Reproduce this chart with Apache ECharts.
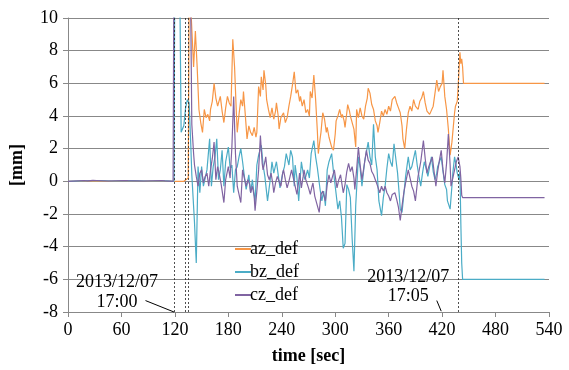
<!DOCTYPE html>
<html>
<head>
<meta charset="utf-8">
<script src="https://cdn.jsdelivr.net/npm/echarts@6/dist/echarts.min.js"></script>
<style>
  html, body { margin: 0; padding: 0; background: #fff; }
  #chart { width: 569px; height: 370px; }
</style>
</head>
<body>
<div id="chart"></div>
<script>
// time [sec] / deflection [mm] pairs
const azDef = [
  [0,0],[20,0.02],[40,0.01],[60,0.02],[80,0.01],[100,0.02],[118,0],[130,0],[135,0.2],[136,12],
  [138,10.5],[141,7.0],[143,9.2],[145,7.0],[147,4.4],[149,3.6],[151,3.0],[153,4.4],[155,3.9],[157,4.1],
  [159,3.7],[160,4.4],[162,4.9],[164,6.0],[166,5.1],[168,4.6],[170,5.0],[171,5.2],[173,4.3],[175,3.6],
  [177,4.5],[179,5.2],[181,4.8],[183,4.6],[185,8.7],[187,7.0],[189,4.2],[190,3.0],[192,4.1],[194,5.0],
  [196,4.6],[197,5.5],[199,4.1],[201,2.6],[203,3.4],[205,3.0],[207,2.8],[209,3.3],[211,2.7],[212,3.0],
  [214,5.8],[216,5.2],[217,6.4],[219,5.6],[220,6.8],[222,5.9],[223,5.0],[225,4.4],[227,3.9],[229,4.5],
  [231,3.8],[233,4.3],[234,4.8],[236,4.0],[237,3.2],[239,3.9],[242,4.2],[244,3.6],[246,3.9],[248,4.6],
  [250,5.2],[252,5.9],[254,6.7],[256,5.4],[258,5.6],[260,4.9],[261,5.2],[263,4.6],[265,5.0],[267,4.2],
  [269,4.4],[271,4.0],[272,5.5],[274,5.1],[276,6.5],[278,5.0],[279,4.0],[280,3.0],[281,1.7],[283,2.6],
  [284,3.0],[286,4.2],[288,3.8],[290,3.0],[291,3.3],[293,2.7],[294,2.5],[296,2.1],[298,1.9],[300,2.9],
  [301,3.7],[303,4.0],[305,4.4],[307,3.9],[308,4.1],[310,3.7],[311,3.3],[313,4.2],[314,4.7],[316,4.3],
  [317,4.0],[319,3.6],[321,3.2],[323,2.1],[324,4.4],[326,3.9],[328,4.5],[330,4.0],[332,3.8],[334,4.6],
  [336,5.1],[337,5.7],[339,5.4],[341,4.7],[343,4.4],[345,3.7],[347,3.4],[348,3.0],[350,3.6],[352,4.3],
  [354,4.0],[356,4.4],[358,4.1],[360,4.6],[362,4.3],[364,5.0],[367,5.2],[369,4.8],[371,4.5],[373,4.2],
  [375,3.4],[376,2.6],[378,2.0],[380,3.2],[382,4.2],[384,4.6],[386,4.3],[388,5.0],[390,4.6],[393,4.4],
  [395,4.9],[397,5.1],[399,5.5],[401,4.8],[403,4.3],[404,4.4],[406,4.1],[408,4.0],[410,4.6],[412,5.4],
  [414,6.2],[416,5.5],[418,5.8],[420,6.0],[421,6.8],[423,5.2],[425,4.4],[427,3.2],[429,1.6],[431,2.4],
  [432,3.0],[434,4.2],[435,4.6],[437,4.9],[438,5.8],[440,7.9],[441,7.2],[442,7.5],[443,7.0],[444,6.0],
  [535,6.0]
];
const bzDef = [
  [0,0],[15,0.03],[35,0.05],[50,0.02],[70,0.04],[90,0.02],[110,0.03],[119,0],[120,15],[125,15],
  [127,3.0],[128,2.9],[130,3.4],[132,4.5],[134,5.0],[136,4.8],[138,2.0],[139,0.4],[140,0.3],[142,-2.5],
  [144,-5.0],[146,0.9],[148,-0.7],[150,0.9],[152,-0.3],[154,0.2],[156,0.7],[159,2.6],[161,-0.3],[163,0.9],
  [165,1.5],[167,2.6],[169,0.1],[171,0.7],[173,1.9],[175,-0.3],[177,1.2],[180,2.1],[182,0.8],[184,1.0],
  [186,-0.7],[188,0.7],[190,0.9],[192,1.5],[194,2.0],[196,1.2],[198,0.3],[200,-0.5],[203,0.4],[205,-0.7],
  [207,0.1],[210,-1.3],[212,1.0],[214,1.6],[217,2.2],[219,1.0],[221,0.3],[224,-1.2],[227,0.1],[229,1.2],
  [231,0.5],[234,1.2],[236,0.4],[238,-0.4],[241,0.5],[243,0.9],[245,1.7],[248,1.0],[250,1.9],[252,1.5],
  [254,-0.3],[255,1.0],[257,0.2],[259,-1.2],[262,1.2],[264,0.5],[266,0.1],[269,0.7],[271,0.2],[273,1.7],
  [276,2.5],[278,1.5],[280,0.8],[283,-0.5],[285,-1.2],[287,-0.6],[289,-1.5],[291,0.7],[293,1.2],[296,1.7],
  [298,0.6],[300,-0.3],[303,-1.7],[305,-1.2],[307,-2.2],[309,-4.1],[311,-3.8],[313,-0.2],[315,-0.5],[317,-1.0],
  [319,-3.5],[321,-5.5],[323,-1.5],[326,1.5],[328,0.8],[330,-0.3],[333,1.2],[335,1.8],[337,2.4],[339,1.5],
  [341,1.0],[343,3.5],[345,1.5],[347,0.7],[349,-1.2],[352,-2.1],[354,-1.0],[356,-0.3],[358,0.8],[360,1.7],
  [362,1.2],[364,0.9],[366,2.3],[368,1.4],[370,0.5],[372,-0.9],[373,-1.7],[375,-1.9],[377,-0.8],[379,0.3],
  [382,1.5],[384,0.7],[386,0.9],[388,1.4],[390,1.9],[392,1.0],[394,0.3],[396,-0.3],[398,0.5],[400,1.2],
  [402,0.8],[404,0.3],[406,0.9],[408,1.5],[410,0.6],[412,0.1],[414,0.5],[415,0.9],[417,1.2],[419,1.5],
  [421,0.6],[423,-0.2],[425,-0.5],[426,-1.2],[429,-1.7],[431,-0.3],[432,0.5],[434,1.5],[436,0.9],[437,0.5],
  [439,0.1],[440,0.6],[441,-2.5],[442,-5.0],[443,-6.0],[535,-6.0]
];
const czDef = [
  [0,0],[18,0.05],[20,0.12],[22,0.03],[28,0.06],[30,0.12],[32,0.05],[45,0.02],[63,0.05],[65,0.14],
  [67,0.04],[85,0.02],[105,0.05],[107,0.16],[109,0.03],[118,0],[119,15],[137,15],[139,3.5],[141,1.7],
  [142,1.0],[144,0.3],[146,-0.3],[148,0.5],[150,0.7],[152,-0.1],[154,0.3],[156,0.5],[158,-0.3],[160,0.7],
  [162,1.4],[164,2.4],[166,0.1],[168,0.9],[170,0.4],[172,-0.2],[175,-1.3],[177,0.1],[180,0.9],[182,0.2],
  [184,2.1],[186,5.2],[188,1.7],[190,-0.3],[192,-0.8],[194,-1.3],[196,0.7],[198,0.2],[200,-0.3],[202,0.1],
  [204,-0.2],[205,-0.7],[207,-0.3],[209,-0.9],[210,-1.8],[212,-0.6],[214,0.7],[216,2.8],[218,1.1],[219,0.7],
  [221,1.2],[222,1.5],[224,0.4],[226,0.1],[228,0.5],[230,-0.2],[231,-0.7],[233,-0.1],[235,0.3],[237,0.2],
  [239,-0.3],[241,0.5],[242,0.7],[244,0.1],[246,-0.4],[248,0.0],[250,0.1],[251,0.7],[253,0.2],[255,-0.3],
  [257,-0.8],[259,0.0],[260,0.5],[262,-0.4],[264,0.3],[265,0.7],[267,0.1],[268,0.0],[270,-0.4],[272,-0.8],
  [274,-0.3],[275,-0.1],[277,-0.9],[279,-1.3],[282,-1.9],[284,-0.8],[286,-0.6],[289,-1.2],[291,-0.2],[293,0.4],
  [295,-0.1],[297,0.3],[299,0.7],[302,-0.4],[304,0.1],[306,0.4],[309,-0.7],[311,-0.2],[313,0.6],[315,1.1],
  [317,0.6],[319,0.9],[321,0.2],[322,-0.5],[324,0.7],[326,2.1],[328,1.0],[330,0.1],[332,0.8],[335,1.9],
  [337,1.3],[339,1.1],[341,0.6],[343,0.4],[345,0.1],[347,-0.2],[350,-0.7],[352,-0.3],[354,-0.6],[356,-0.3],
  [358,-0.7],[360,-0.9],[362,-1.2],[364,-0.8],[367,-0.7],[369,-1.1],[371,-1.6],[373,-2.4],[375,-1.5],[377,-0.7],
  [379,-0.1],[382,0.7],[384,0.7],[386,-0.3],[388,-0.6],[390,-1.2],[393,0.3],[396,1.2],[399,2.5],[401,1.4],
  [403,0.5],[405,0.9],[407,1.2],[409,1.5],[411,0.6],[413,-0.3],[415,0.6],[417,1.3],[419,1.9],[421,0.7],
  [423,-0.1],[425,1.1],[427,2.9],[429,1.0],[430,-0.3],[432,0.2],[434,0.7],[436,1.2],[438,1.5],[440,0.9],
  [441,0.2],[442,-0.85],[443,-1.0],[535,-1.0]
];
// event markers (sec) and notes
const eventLines = [119.5, 131.5, 135.5, 438.5];
const notes = [
  { text: '2013/12/07', at: [55, -6.2] },
  { text: '17:00', at: [55, -7.4] },
  { text: '2013/12/07', at: [382, -5.9] },
  { text: '17:05', at: [382, -7.05] }
];
const leaders = [
  [[87, -7.3], [119, -8]],
  [[414, -7.3], [419, -7.95]]
];

const FONT = '"Liberation Serif", "Times New Roman", serif';
const chart = echarts.init(document.getElementById('chart'));

const mkSeries = (name, data, color) => ({
  name, type: 'line', data, showSymbol: false, symbol: 'none',
  lineStyle: { color, width: 1.2 }, itemStyle: { color },
  clip: true, animation: false
});

const series = [
  mkSeries('az_def', azDef, '#F79646'),
  mkSeries('bz_def', bzDef, '#4BACC6'),
  mkSeries('cz_def', czDef, '#8064A2')
];
// dotted event lines + leader lines hung on the first series
series[0].markLine = {
  silent: true, symbol: 'none', animation: false,
  label: { show: false },
  lineStyle: { color: '#222', type: [2, 2], width: 0.8 },
  data: eventLines.map(v => ({ xAxis: v }))
    .concat(leaders.map(l => [
      { coord: l[0], lineStyle: { type: 'solid', color: '#000', width: 1 } },
      { coord: l[1] }
    ]))
};

chart.setOption({
  animation: false,
  textStyle: { fontFamily: FONT },
  grid: { left: 67, right: 20, top: 18, bottom: 55 },
  legend: {
    orient: 'vertical', left: 230, top: 235, itemGap: 5,
    itemWidth: 16, itemHeight: 2, icon: 'rect',
    textStyle: { fontFamily: FONT, fontSize: 18, color: '#000', padding: [0, 0, 0, -6] },
    data: ['az_def', 'bz_def', 'cz_def']
  },
  xAxis: {
    type: 'value', min: 0, max: 540, interval: 60,
    name: 'time [sec]', nameLocation: 'middle', nameGap: 35,
    nameTextStyle: { fontFamily: FONT, fontSize: 18, fontWeight: 'bold', color: '#000' },
    axisLine: { onZero: false, lineStyle: { color: '#888' } },
    axisTick: { show: true, length: 5, lineStyle: { color: '#888' } },
    axisLabel: { fontFamily: FONT, fontSize: 18, color: '#000', margin: 9 },
    splitLine: { show: false }
  },
  yAxis: {
    type: 'value', min: -8, max: 10, interval: 2,
    name: '[mm]', nameLocation: 'middle', nameGap: 42, nameRotate: 90,
    nameTextStyle: { fontFamily: FONT, fontSize: 18, fontWeight: 'bold', color: '#000' },
    axisLine: { show: true, lineStyle: { color: '#888' } },
    axisTick: { show: true, length: 5, lineStyle: { color: '#888' } },
    axisLabel: { fontFamily: FONT, fontSize: 18, color: '#000', margin: 10 },
    splitLine: { lineStyle: { color: '#888', width: 1 } }
  },
  series
});

// place the date/time notes using the axes' own scales
chart.setOption({
  graphic: notes.map(n => {
    const p = chart.convertToPixel({ gridIndex: 0 }, n.at);
    return {
      type: 'text', x: p[0], y: p[1], silent: true,
      style: {
        text: n.text, fontFamily: FONT, fontSize: 18, fill: '#000',
        align: 'center', verticalAlign: 'middle'
      }
    };
  })
});
</script>
</body>
</html>
